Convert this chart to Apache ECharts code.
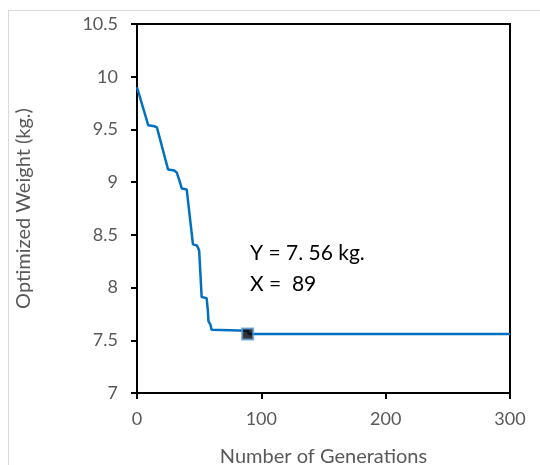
<!DOCTYPE html>
<html>
<head>
<meta charset="utf-8">
<script src="https://cdn.jsdelivr.net/npm/echarts@6/dist/echarts.min.js"></script>
<style>html,body{margin:0;padding:0;background:#fff;}#c{width:540px;height:465px;}</style>
</head>
<body>
<div id="c"></div>
<script>
var generations = [0, 9, 14, 16, 25, 30, 32, 34, 36, 40, 45, 48, 49, 50, 52, 53, 56, 57, 57.5, 59, 60, 89, 90, 300];
var weights = [9.9, 9.54, 9.53, 9.52, 9.12, 9.11, 9.09, 9.02, 8.94, 8.93, 8.41, 8.40, 8.38, 8.35, 7.91, 7.90, 7.90, 7.78, 7.68, 7.65, 7.60, 7.59, 7.56, 7.56];
var optimumX = [89];
var optimumY = [7.56];
var xTicks = [0, 100, 200, 300];
var yTicks = [7, 7.5, 8, 8.5, 9, 9.5, 10, 10.5];
var annotationLines = ['Y = 7. 56 kg.', 'X =  89'];

var FONT = 'Lato';
var chart = echarts.init(document.getElementById('c'));
var lineData = generations.map(function (g, i) { return [g, weights[i]]; });
var markData = optimumX.map(function (g, i) { return [g, optimumY[i]]; });

chart.setOption({
  animation: false,
  backgroundColor: '#fff',
  grid: { left: 137, right: 30, top: 24, bottom: 72, containLabel: false, outerBoundsMode: 'none', show: true, borderColor: '#000', borderWidth: 2, backgroundColor: 'transparent' },
  xAxis: {
    type: 'value', min: xTicks[0], max: xTicks[xTicks.length - 1], interval: 100,
    name: 'Number of Generations', nameLocation: 'middle', nameGap: 54,
    nameTextStyle: { fontFamily: FONT, fontSize: 20, color: '#595959' },
    axisLine: { show: true, onZero: false, lineStyle: { color: '#000', width: 2 } },
    axisTick: { show: true, inside: false, length: 6, lineStyle: { color: '#000', width: 2 } },
    axisLabel: { fontFamily: FONT, fontSize: 18, color: '#595959', margin: 17 },
    splitLine: { show: false }
  },
  yAxis: {
    type: 'value', min: yTicks[0], max: yTicks[yTicks.length - 1], interval: 0.5,
    name: 'Optimized Weight (kg.)', nameLocation: 'middle', nameGap: 103,
    nameTextStyle: { fontFamily: FONT, fontSize: 20, color: '#595959' },
    axisLine: { show: true, onZero: false, lineStyle: { color: '#000', width: 2 } },
    axisTick: { show: true, inside: false, length: 6, lineStyle: { color: '#000', width: 2 } },
    axisLabel: { fontFamily: FONT, fontSize: 18, color: '#595959', margin: 19 },
    splitLine: { show: false }
  },
  series: [
    {
      type: 'line', data: lineData, showSymbol: false, symbol: 'none',
      lineStyle: { color: '#0070C0', width: 2.5 }, z: 2
    },
    {
      type: 'scatter', data: markData, symbol: 'rect', symbolSize: 11,
      itemStyle: { color: '#000', borderColor: '#5B9BD5', borderWidth: 2 }, z: 3
    }
  ],
  graphic: [
    { type: 'line', shape: { x1: 8, y1: 10.5, x2: 540, y2: 10.5 }, style: { stroke: '#d9d9d9', lineWidth: 1 } },
    { type: 'line', shape: { x1: 8.5, y1: 10, x2: 8.5, y2: 465 }, style: { stroke: '#d9d9d9', lineWidth: 1 } },
    { type: 'text', left: 250, top: 243, style: { text: annotationLines[0], fontFamily: FONT, fontSize: 21, fill: '#000' } },
    { type: 'text', left: 250, top: 274, style: { text: annotationLines[1], fontFamily: FONT, fontSize: 21, fill: '#000' } }
  ]
});
</script>
</body>
</html>
